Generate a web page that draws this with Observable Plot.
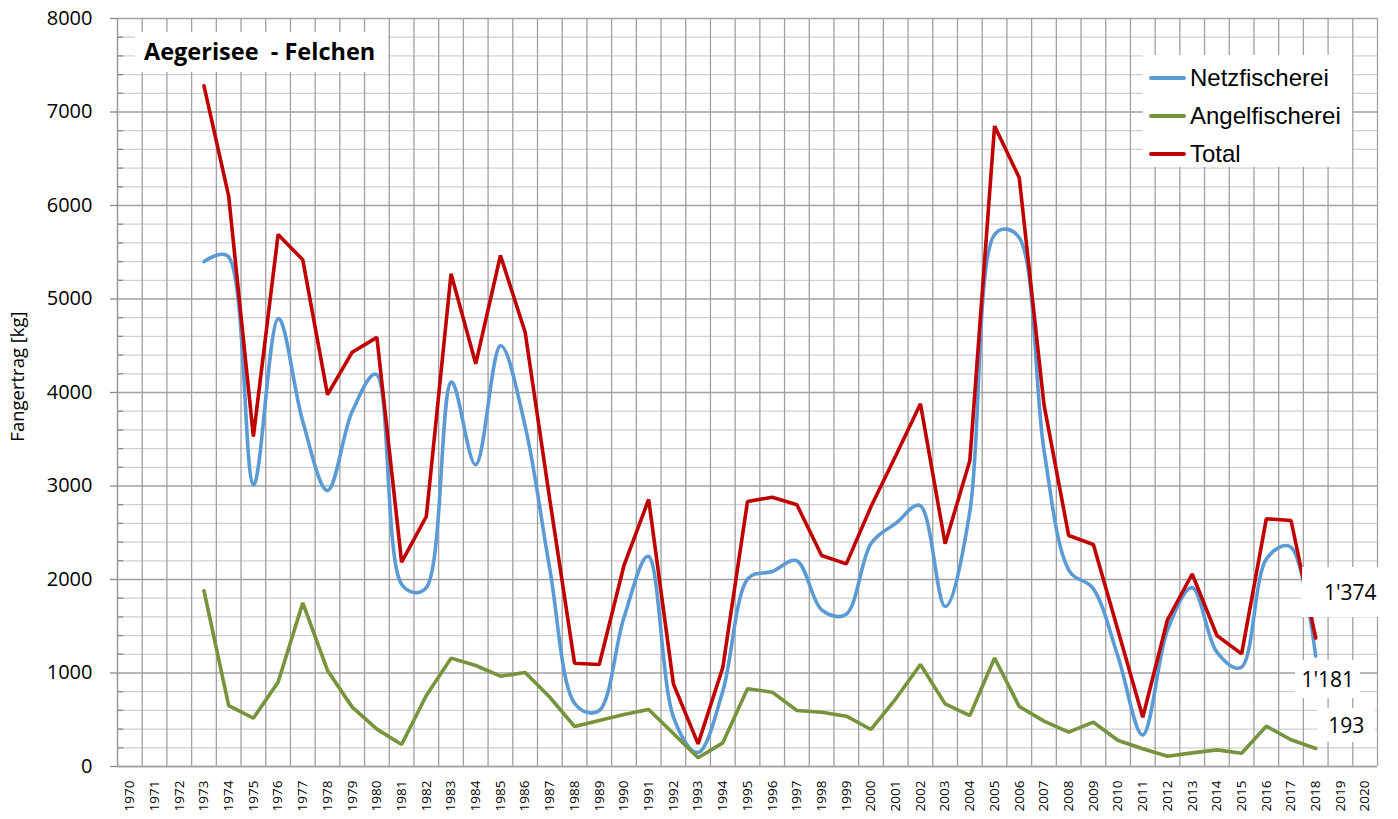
<!DOCTYPE html>
<html>
<head>
<meta charset="utf-8">
<script src="https://cdn.jsdelivr.net/npm/d3@7"></script>
<script src="https://cdn.jsdelivr.net/npm/@observablehq/plot@0.6"></script>
<style>
  html, body { margin: 0; padding: 0; background: #fff; }
  #wrap { position: relative; width: 1398px; height: 819px; }
  #wrap svg { position: absolute; left: 0; top: 0; }
  .box { position: absolute; background: #fff; }
  .lbl { position: absolute; font-family: 'Open Sans', sans-serif; font-size: 21px; color: #000; white-space: pre; }
</style>
</head>
<body>
<div id="wrap"></div>
<script>
// ---- data ----
const years = [1973,1974,1975,1976,1977,1978,1979,1980,1981,1982,1983,1984,1985,1986,1987,1988,1989,1990,1991,1992,1993,1994,1995,1996,1997,1998,1999,2000,2001,2002,2003,2004,2005,2006,2007,2008,2009,2010,2011,2012,2013,2014,2015,2016,2017,2018];
const netzfischerei = [5400,5450,3013,4790,3690,2951,3796,4190,1950,1914,4110,3227,4499,3640,2109,677,599,1594,2246,531,149,806,2003,2085,2200,1676,1629,2384,2600,2788,1712,2728,5690,5655,3385,2104,1900,1173,338,1459,1913,1223,1063,2218,2345,1181];
const angelfischerei = [1880,652,517,902,1750,1027,635,400,235,760,1159,1080,966,1005,741,428,492,556,610,353,93,253,831,795,599,581,538,396,724,1091,670,545,1160,641,485,367,474,278,189,110,146,178,142,431,286,193];
const total = [7280,6100,3530,5690,5419,3978,4431,4590,2185,2674,5269,4307,5465,4645,2850,1105,1091,2150,2856,884,242,1059,2834,2880,2799,2257,2167,2780,3324,3879,2382,3273,6850,6296,3870,2471,2374,1451,527,1569,2059,1401,1205,2649,2631,1374];
const axisYears = [1970,1971,1972,1973,1974,1975,1976,1977,1978,1979,1980,1981,1982,1983,1984,1985,1986,1987,1988,1989,1990,1991,1992,1993,1994,1995,1996,1997,1998,1999,2000,2001,2002,2003,2004,2005,2006,2007,2008,2009,2010,2011,2012,2013,2014,2015,2016,2017,2018,2019,2020];
const yTicks = [0,1000,2000,3000,4000,5000,6000,7000,8000];
const seriesNames = ["Netzfischerei","Angelfischerei","Total"];
const seriesColors = ["#5B9BD5","#77933C","#C00000"];
const endLabels = ["1'181","193","1'374"];
const titleText = "Aegerisee  - Felchen";
const yLabel = "Fangertrag [kg]";

// ---- derived tables ----
const netzData = years.map((y,i)=>({year:y, v:netzfischerei[i]}));
const angelData = years.map((y,i)=>({year:y, v:angelfischerei[i]}));
const totalData = years.map((y,i)=>({year:y, v:total[i]}));
const minorY = d3.range(200, 8000, 200).filter(v => v % 1000 !== 0);
const majorY = yTicks.filter(v => v > 0);
const bandEdges = axisYears.map(y => y + 0.5);

const chart = Plot.plot({
  width: 1398,
  height: 819,
  marginLeft: 117,
  marginRight: 21,
  marginTop: 18,
  marginBottom: 53,
  style: {fontFamily: "'Open Sans', sans-serif", color: "#000", background: "transparent", overflow: "visible"},
  x: {domain: [1969.5, 2020.5], axis: null},
  y: {domain: [0, 8000], axis: null},
  marks: [
    Plot.ruleY(minorY, {stroke: "#d0d0d0", strokeWidth: 1.3, strokeOpacity: 1}),
    Plot.ruleY(majorY, {stroke: "#a0a0a0", strokeWidth: 1.3, strokeOpacity: 1}),
    Plot.ruleX(bandEdges, {stroke: "#a0a0a0", strokeWidth: 1.3, strokeOpacity: 1}),
    Plot.ruleY(minorY, {x1: 1969.5, x2: 1969.75, stroke: "#888", strokeWidth: 1.3}),
    Plot.ruleX([1969.5], {stroke: "#999", strokeWidth: 1.5}),
    Plot.ruleY([0], {stroke: "#a6a6a6", strokeWidth: 2}),
    Plot.axisY({ticks: yTicks, label: null, tickSize: 7, tickPadding: 18, tickFormat: d => String(d), fontSize: 20, stroke: "#888", strokeWidth: 1.3}),
    Plot.axisX({ticks: axisYears, label: null, tickSize: 0, tickPadding: 14, tickRotate: -90, tickFormat: d => String(d), fontSize: 13.5}),
    Plot.text([yLabel], {frameAnchor: "left", textAnchor: "middle", dx: -99, dy: -16, rotate: -90, fontSize: 18.5, fill: "#000"}),
    Plot.line(netzData, {x: "year", y: "v", stroke: seriesColors[0], strokeWidth: 3.6, curve: "catmull-rom", tension: 0.4}),
    Plot.line(angelData, {x: "year", y: "v", stroke: seriesColors[1], strokeWidth: 3.6, strokeLinejoin: "miter"}),
    Plot.line(totalData, {x: "year", y: "v", stroke: seriesColors[2], strokeWidth: 3.6, strokeLinejoin: "miter"})
  ]
});

const wrap = document.getElementById("wrap");
wrap.appendChild(chart);
const sx = chart.scale("x"), sy = chart.scale("y");

function addBox(left, top, w, h) {
  const b = document.createElement("div");
  b.className = "box";
  Object.assign(b.style, {left: left+"px", top: top+"px", width: w+"px", height: h+"px"});
  wrap.appendChild(b);
  return b;
}

// title box
const tb = addBox(135, 32, 253, 40);
const tt = document.createElement("div");
tt.className = "lbl";
Object.assign(tt.style, {left: "9px", top: "3px", fontSize: "23.5px", fontWeight: "bold"});
tt.textContent = titleText;
tb.appendChild(tt);

// legend
const lg = addBox(1143, 55, 209, 112);
seriesNames.forEach((name, i) => {
  const row = document.createElement("div");
  Object.assign(row.style, {position: "absolute", left: "6px", top: (8 + i*38) + "px", height: "30px", display: "flex", alignItems: "center", fontFamily: "'Liberation Sans', Arial, sans-serif", fontSize: "24px", color: "#000"});
  const sw = document.createElement("span");
  Object.assign(sw.style, {display: "inline-block", width: "37px", height: "4px", background: seriesColors[i], borderRadius: "2px", marginRight: "4px"});
  const tx = document.createElement("span");
  tx.textContent = name;
  row.appendChild(sw); row.appendChild(tx);
  lg.appendChild(row);
});

// end labels (positioned from the library's scales)
const lastX = sx.apply(years[years.length-1]);
const endVals = [netzfischerei[netzfischerei.length-1], angelfischerei[angelfischerei.length-1], total[total.length-1]];
const boxSpecs = [
  {dx: -20, dy: 4, w: 65, h: 38},
  {dx: 2, dy: -40, w: 58, h: 34},
  {dx: -13, dy: -71, w: 96, h: 50}
];
endVals.forEach((v, i) => {
  const px = lastX, py = sy.apply(v);
  const s = boxSpecs[i];
  const b = addBox(px + s.dx, py + s.dy, s.w, s.h);
  const t = document.createElement("div");
  t.className = "lbl";
  Object.assign(t.style, {left: "0", top: "0", width: s.w + "px", height: s.h + "px", display: "flex", alignItems: "center", justifyContent: "center"});
  t.textContent = endLabels[i];
  b.appendChild(t);
});
</script>
</body>
</html>
